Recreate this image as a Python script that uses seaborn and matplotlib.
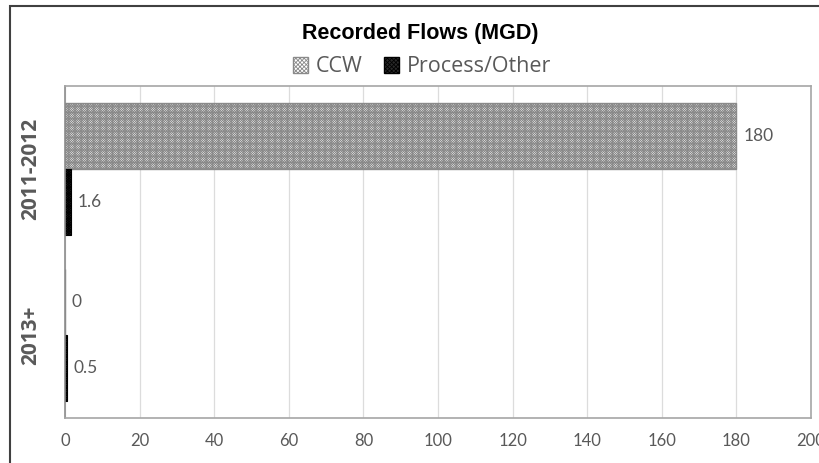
import matplotlib
matplotlib.use("Agg")
import matplotlib.pyplot as plt
from matplotlib.patches import Patch, Rectangle
import seaborn as sns
import pandas as pd

periods = ["2011-2012", "2013+"]
series = ["CCW", "Process/Other"]
ccw = [180, 0]
process = [1.6, 0.5]
x_ticks = [0, 20, 40, 60, 80, 100, 120, 140, 160, 180, 200]

df = pd.DataFrame({
    "Period": periods * 2,
    "Flow": ccw + process,
    "Type": [series[0]] * len(periods) + [series[1]] * len(periods),
})

sns.set_theme(style="white")
plt.rcParams["font.family"] = ["Lato", "DejaVu Sans"]
plt.rcParams["hatch.linewidth"] = 0.6

fig = plt.figure(figsize=(8.2, 4.63), dpi=100)
ax = fig.add_axes([65 / 820, 1 - 418 / 463, (811 - 65) / 820, (418 - 86) / 463])

sns.barplot(data=df, y="Period", x="Flow", hue="Type", orient="h",
            width=0.8, palette=["white", "#1e1e1e"], ax=ax, legend=False,
            saturation=1)

styles = [
    dict(facecolor="white", edgecolor="#8a8a8a", hatch="x" * 14, lw=1.0),
    dict(facecolor="#2a2a2a", edgecolor="#000000", hatch="x" * 14, lw=0.8),
]
for cont, st in zip(ax.containers, styles):
    for p in cont:
        p.set_facecolor(st["facecolor"])
        p.set_edgecolor(st["edgecolor"])
        p.set_hatch(st["hatch"])
        p.set_linewidth(st["lw"])
    ax.bar_label(cont, labels=[f"{v:g}" for v in cont.datavalues], padding=5,
                 fontsize=12.5, color="#595959")

ax.set_xlim(0, 200)
ax.set_xticks(x_ticks)
ax.set_xticklabels([str(t) for t in x_ticks])
ax.set_yticks(range(len(periods)))
ax.set_yticklabels(periods, rotation=90, va="center", fontweight="bold",
                   fontsize=15, color="#595959",
                   family=["Open Sans", "DejaVu Sans"])
ax.set_xlabel("")
ax.set_ylabel("")
ax.grid(axis="x", color="#dcdcdc", lw=0.9)
ax.set_axisbelow(True)
ax.tick_params(axis="x", length=0, pad=11, labelsize=12, labelcolor="#595959")
ax.tick_params(axis="y", length=0, pad=17)
for name, sp in ax.spines.items():
    sp.set_visible(True)
    sp.set_color("#a6a6a6")
    sp.set_linewidth(1.2)
ax.spines["left"].set_color("#8c8c8c")

fig.text(0.512, 1 - 33 / 463, "Recorded Flows (MGD)", ha="center", va="center",
         fontsize=15.5, fontweight="bold", color="black",
         family=["Liberation Sans", "DejaVu Sans"])

handles = [
    Patch(facecolor="white", edgecolor="#8a8a8a", hatch="x" * 8, label=series[0]),
    Patch(facecolor="#2a2a2a", edgecolor="#000000", hatch="x" * 8, label=series[1]),
]
fig.legend(handles=handles, loc="center", bbox_to_anchor=(0.515, 1 - 67 / 463),
           ncol=2, frameon=False, handlelength=0.7, handleheight=0.7,
           handletextpad=0.35, columnspacing=1.0,
           prop={"family": ["Open Sans", "DejaVu Sans"], "size": 15.5},
           labelcolor="#595959")

fig.add_artist(Rectangle((10 / 820, -0.1), 1.2, (1 - 6 / 463) + 0.1,
                         transform=fig.transFigure, fill=False,
                         edgecolor="#404040", lw=1.5))

fig.savefig("out.png", dpi=100)
